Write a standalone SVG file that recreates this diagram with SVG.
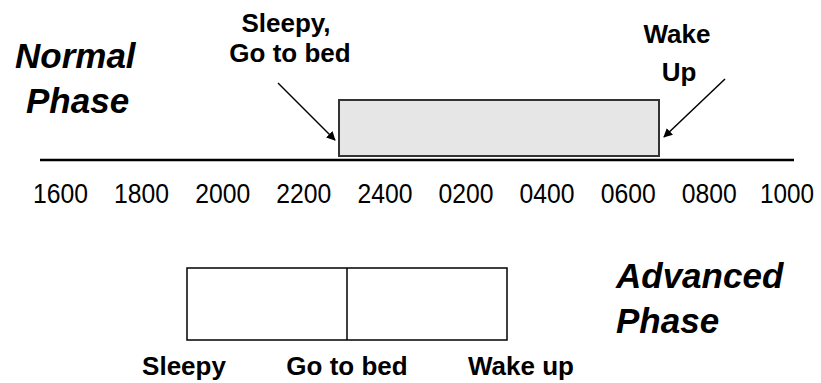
<svg xmlns="http://www.w3.org/2000/svg" width="821" height="383" viewBox="0 0 821 383">
<style>
.t{font-family:"Liberation Sans",Arial,sans-serif;fill:#000}
.b{font-weight:bold;font-size:26px;text-anchor:middle}
.h{font-weight:bold;font-style:italic;font-size:35px}
.n{font-size:28px;text-anchor:middle}
.ln{stroke:#000;stroke-width:1.5;fill:none}
</style>
<defs>
<marker id="ah" viewBox="0 0 10 10" refX="9" refY="5" markerWidth="9" markerHeight="9" markerUnits="userSpaceOnUse" orient="auto">
<path d="M0,0 L10,5 L0,10 z" fill="#000"/>
</marker>
</defs>
<g id="normal-title">
<text class="t h" x="15" y="68">Normal</text>
<text class="t h" x="26" y="113">Phase</text>
</g>
<g id="sleep-period">
<rect x="339" y="100" width="320" height="56" fill="#e6e6e6" stroke="#333" stroke-width="2"/>
</g>
<g id="axis">
<line x1="40" y1="160" x2="794" y2="160" stroke="#000" stroke-width="2.5"/>
<g class="t n">
<text x="60.5" y="203" textLength="55" lengthAdjust="spacingAndGlyphs">1600</text>
<text x="141.6" y="203" textLength="55" lengthAdjust="spacingAndGlyphs">1800</text>
<text x="222.7" y="203" textLength="55" lengthAdjust="spacingAndGlyphs">2000</text>
<text x="303.8" y="203" textLength="55" lengthAdjust="spacingAndGlyphs">2200</text>
<text x="384.9" y="203" textLength="55" lengthAdjust="spacingAndGlyphs">2400</text>
<text x="466" y="203" textLength="55" lengthAdjust="spacingAndGlyphs">0200</text>
<text x="547.1" y="203" textLength="55" lengthAdjust="spacingAndGlyphs">0400</text>
<text x="628.2" y="203" textLength="55" lengthAdjust="spacingAndGlyphs">0600</text>
<text x="709.3" y="203" textLength="55" lengthAdjust="spacingAndGlyphs">0800</text>
<text x="787" y="203" textLength="54" lengthAdjust="spacingAndGlyphs">1000</text>
</g>
</g>
<g id="label-sleepy">
<text class="t b" x="286" y="32">Sleepy,</text>
<text class="t b" x="290" y="62">Go to bed</text>
</g>
<g id="label-wake">
<text class="t b" x="677" y="43">Wake</text>
<text class="t b" x="679" y="81">Up</text>
</g>
<g id="connectors">
<line class="ln" x1="278" y1="83" x2="335" y2="140" marker-end="url(#ah)"/>
<line class="ln" x1="725" y1="79" x2="664" y2="137" marker-end="url(#ah)"/>
</g>
<g id="advanced-box">
<rect x="187" y="268" width="320" height="72" fill="#fff" stroke="#000" stroke-width="1.5"/>
<line x1="347" y1="268" x2="347" y2="340" stroke="#000" stroke-width="1.5"/>
</g>
<g id="advanced-title">
<text class="t h" x="616" y="288">Advanced</text>
<text class="t h" x="616" y="333">Phase</text>
</g>
<g id="advanced-labels">
<text class="t b" x="184" y="375">Sleepy</text>
<text class="t b" x="347" y="375">Go to bed</text>
<text class="t b" x="521" y="375">Wake up</text>
</g>
</svg>
